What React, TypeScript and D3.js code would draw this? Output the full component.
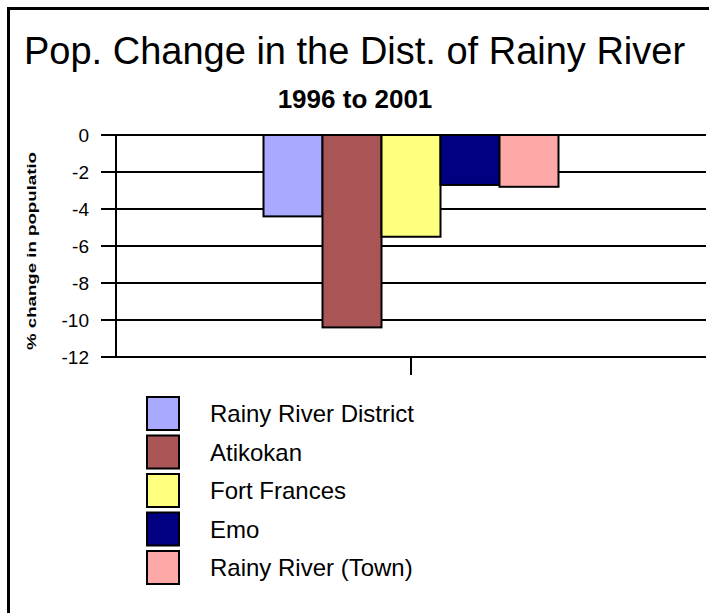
import React from "react";
import * as d3 from "d3";

const categories = ["Rainy River District", "Atikokan", "Fort Frances", "Emo", "Rainy River (Town)"];
const values = [-4.4, -10.4, -5.5, -2.7, -2.8];
const colors = ["#A9A9FF", "#A95555", "#FFFF80", "#000080", "#FFA8A8"];
const yTicks = [0, -2, -4, -6, -8, -10, -12];
const group = ["1996 to 2001"];

export default function App() {
  const W = 709, H = 613;
  const left = 116, right = 706, top = 135, bottom = 357;
  const y = d3.scaleLinear().domain([0, -12]).range([top, bottom]);
  const xOuter = d3.scaleBand().domain(group).range([left, right]).paddingInner(0).paddingOuter(0.5);
  const xInner = d3.scaleBand().domain(categories).range([0, xOuter.bandwidth()]);
  const g0 = xOuter(group[0]) as number;
  const font = "Arial, 'Liberation Sans', sans-serif";
  const legendTop = 397, legendStep = 38.5;
  const sw = 2;

  return (
    <div style={{ position: "absolute", left: 0, top: 0 }}>
      <svg width={W} height={H} style={{ display: "block", background: "#fff" }}>
        <rect x={8.5} y={8.5} width={760} height={700} fill="#fff" stroke="#000" strokeWidth={3} />
        <text x={24} y={64} fontFamily={font} fontSize={38} fill="#000">
          Pop. Change in the Dist. of Rainy River
        </text>
        <text x={355} y={108} textAnchor="middle" fontFamily={font} fontSize={26} fontWeight="bold" fill="#000">
          1996 to 2001
        </text>
        {yTicks.map((t) => (
          <g key={t}>
            <line x1={101} x2={right} y1={y(t)} y2={y(t)} stroke="#000" strokeWidth={sw} />
            <text x={89} y={y(t)} dy="0.35em" textAnchor="end" fontFamily={font} fontSize={19} fill="#000">
              {t}
            </text>
          </g>
        ))}
        <line x1={left} x2={left} y1={top} y2={bottom} stroke="#000" strokeWidth={sw} />
        <line x1={(left + right) / 2} x2={(left + right) / 2} y1={bottom} y2={bottom + 18} stroke="#000" strokeWidth={sw} />
        {categories.map((c, i) => (
          <rect
            key={c}
            x={g0 + (xInner(c) as number)}
            y={y(0)}
            width={xInner.bandwidth()}
            height={y(values[i]) - y(0)}
            fill={colors[i]}
            stroke="#000"
            strokeWidth={sw}
          />
        ))}
        <text
          transform={`translate(36,251) rotate(-90)`}
          textAnchor="middle"
          fontFamily={font}
          fontSize={13}
          fontWeight="bold"
          textLength={198}
          lengthAdjust="spacingAndGlyphs"
          fill="#000"
        >
          % change in populatio
        </text>
        {categories.map((c, i) => (
          <g key={c} transform={`translate(0,${legendTop + i * legendStep})`}>
            <rect x={147} y={0} width={32} height={33} fill={colors[i]} stroke="#000" strokeWidth={sw} />
            <text x={210} y={25} fontFamily={font} fontSize={24} fill="#000">
              {c}
            </text>
          </g>
        ))}
      </svg>
    </div>
  );
}
